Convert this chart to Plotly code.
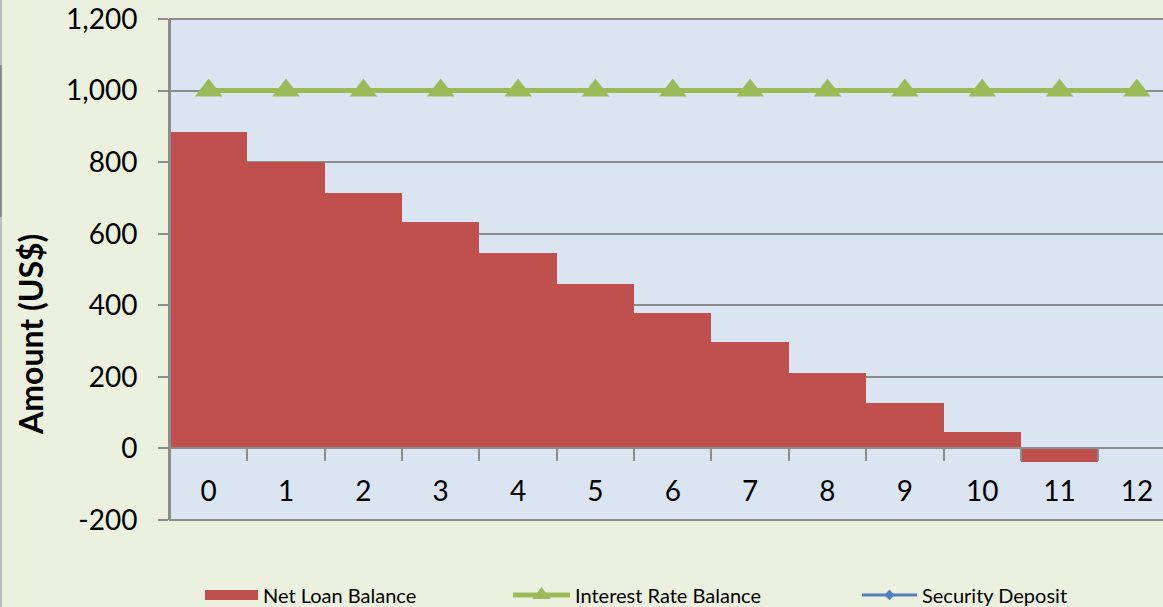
import plotly.graph_objects as go

# Period labels (years 0..12)
periods = [str(i) for i in range(13)]

# Series values (US$)
net_loan_balance = [884, 800, 715, 632, 545, 460, 378, 297, 210, 128, 46, -38, None]
interest_rate_balance = [1000] * 13
security_deposit = [None] * 13

# Value-axis ticks
y_ticks = [-200, 0, 200, 400, 600, 800, 1000, 1200]
y_tick_text = [f"{v:,}" for v in y_ticks]

# Styling
RED = "#C0504D"
GREEN = "#9BBB59"
BLUE = "#4F81BD"
GRID = "#8C8C8C"
PAPER_BG = "#EBF1DE"
PLOT_BG = "#DBE5F1"
FONT = "Lato"

W, H = 1163, 607
M_L, M_R, M_T, M_B = 170, 0, 19, 87
plot_w = W - M_L - M_R
plot_h = H - M_T - M_B
band = 77.35  # pixel width of one period

y_min, y_max = -200, 1200


def px_x(p):
    return (p - M_L) / plot_w


def px_y(p):
    return (M_T + plot_h - p) / plot_h


fig = go.Figure()

fig.add_trace(go.Bar(
    x=periods, y=net_loan_balance, name="Net Loan Balance",
    marker=dict(color=RED, line=dict(width=0)),
    showlegend=False,
))
# wide swatch used as the legend key for the bars
fig.add_trace(go.Scatter(
    x=[None], y=[None], mode="lines", name="Net Loan Balance",
    line=dict(color=RED, width=11), legend="legend",
))
fig.add_trace(go.Scatter(
    x=periods, y=interest_rate_balance, name="Interest Rate Balance",
    mode="lines+markers",
    line=dict(color=GREEN, width=5),
    marker=dict(symbol="triangle-up", size=24, color=GREEN),
    legend="legend2",
))
fig.add_trace(go.Scatter(
    x=periods, y=security_deposit, name="Security Deposit",
    mode="lines+markers",
    line=dict(color=BLUE, width=3),
    marker=dict(symbol="diamond", size=8, color=BLUE),
    legend="legend3",
))

x_right = -0.5 + plot_w / band
zero_pos = (0 - y_min) / (y_max - y_min)
legend_y = px_y(595)
legend_common = dict(orientation="h", xanchor="left", y=legend_y, yanchor="middle",
                     bgcolor="rgba(0,0,0,0)", font=dict(size=20, family=FONT))

fig.update_layout(
    width=W, height=H,
    margin=dict(l=M_L, r=M_R, t=M_T, b=M_B, pad=0, autoexpand=False),
    paper_bgcolor=PAPER_BG,
    plot_bgcolor=PLOT_BG,
    font=dict(family=FONT, color="#000000"),
    bargap=0,
    xaxis=dict(
        type="category",
        range=[-0.5, x_right],
        anchor="free", position=zero_pos,
        showline=True, linecolor=GRID, linewidth=2,
        ticks="outside", ticklen=12, tickwidth=2, tickcolor=GRID,
        tickson="boundaries",
        showgrid=False, zeroline=False,
        tickfont=dict(size=28, family=FONT),
        ticklabelstandoff=18,
    ),
    yaxis=dict(
        range=[y_min, y_max],
        tickmode="array", tickvals=y_ticks, ticktext=y_tick_text,
        showline=True, linecolor=GRID, linewidth=2,
        ticks="outside", ticklen=10, tickwidth=2, tickcolor=GRID,
        showgrid=True, gridcolor=GRID, gridwidth=2,
        zeroline=False,
        tickfont=dict(size=28, family=FONT),
        ticklabelstandoff=15,
    ),
    legend=dict(x=px_x(200), itemwidth=53, **legend_common),
    legend2=dict(x=px_x(508), itemwidth=57, **legend_common),
    legend3=dict(x=px_x(857), itemwidth=55, **legend_common),
    showlegend=True,
)

# plot-area frame (top and bottom edges run past the right edge of the page)
fig.add_shape(type="rect", xref="paper", yref="paper",
              x0=0, x1=1.05, y0=0, y1=1,
              line=dict(color=GRID, width=2), layer="above")

# outer chart border on the left
fig.add_shape(type="line", xref="paper", yref="paper",
              x0=px_x(1), x1=px_x(1), y0=px_y(0), y1=px_y(607),
              line=dict(color="#BDBDBD", width=2))
fig.add_shape(type="line", xref="paper", yref="paper",
              x0=px_x(1), x1=px_x(1), y0=px_y(65), y1=px_y(217),
              line=dict(color="#8A8A8A", width=2))

fig.add_annotation(
    text="<b>Amount (US$)</b>", textangle=-90,
    xref="paper", yref="paper",
    x=px_x(30), y=px_y(335), xanchor="center", yanchor="middle",
    showarrow=False, font=dict(size=32, family=FONT, color="#000000"),
)

fig.write_html("out.html")
